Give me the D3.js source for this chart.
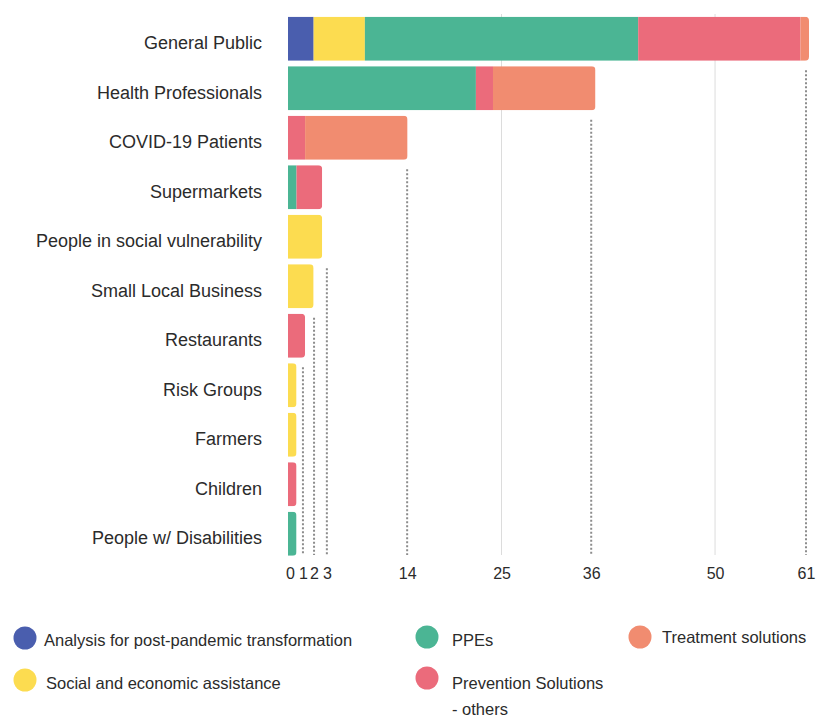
<!DOCTYPE html>
<html>
<head>
<meta charset="utf-8">
<script src="https://cdn.jsdelivr.net/npm/d3@7"></script>
<style>
  html, body { margin: 0; padding: 0; background: #fff; }
  svg { display: block; font-family: "Liberation Sans", Arial, Helvetica, sans-serif; }
</style>
</head>
<body>
<svg id="chart" width="817" height="718"></svg>
<script>
// Target groups, top to bottom
const categories = [
  "General Public", "Health Professionals", "COVID-19 Patients", "Supermarkets",
  "People in social vulnerability", "Small Local Business", "Restaurants",
  "Risk Groups", "Farmers", "Children", "People w/ Disabilities"
];

// Number of initiatives per group, one array per solution type
const analysisValues   = [3, 0, 0, 0, 0, 0, 0, 0, 0, 0, 0];
const socialValues     = [6, 0, 0, 0, 4, 3, 0, 1, 1, 0, 0];
const ppeValues        = [32, 22, 0, 1, 0, 0, 0, 0, 0, 0, 1];
const preventionValues = [19, 2, 2, 3, 0, 0, 2, 0, 0, 1, 0];
const treatmentValues  = [1, 12, 12, 0, 0, 0, 0, 0, 0, 0, 0];

const seriesNames = [
  "Analysis for post-pandemic transformation",
  "Social and economic assistance",
  "PPEs",
  "Prevention Solutions - others",
  "Treatment solutions"
];
const seriesColors = ["#4a5eae", "#fcdc50", "#4bb594", "#eb6b7b", "#f18c70"];

// Axis ticks: where each mark sits on the value scale, and the text printed under it
const tickValues = [0, 1.75, 3.05, 4.55, 13.95, 25, 35.5, 50, 60.65];
const tickLabels = ["0", "1", "2", "3", "14", "25", "36", "50", "61"];
const solidGridValues = [25, 50];

const seriesValues = [analysisValues, socialValues, ppeValues, preventionValues, treatmentValues];
const keys = d3.range(seriesNames.length);
const rows = categories.map((c, i) => {
  const r = { category: c };
  keys.forEach(k => { r[k] = seriesValues[k][i]; });
  r.total = d3.sum(keys, k => r[k]);
  return r;
});
const totals = rows.map(r => r.total);

const svg = d3.select("#chart");
const x = d3.scaleLinear().domain([0, 61]).range([288, 809]);
const y = d3.scaleBand().domain(categories).range([14, 558.5]).paddingInner(0.11).paddingOuter(0.055);
const axisBottom = 555;

// Solid reference lines
svg.append("g").selectAll("line")
  .data(solidGridValues)
  .join("line")
  .attr("x1", d => x(d)).attr("x2", d => x(d))
  .attr("y1", y.range()[0]).attr("y2", axisBottom)
  .attr("stroke", "#dcdcdc").attr("stroke-width", 1);

// Dotted drop lines, each one starting below the last bar that reaches its total
const dropTicks = tickValues.filter(v => v > 0 && !solidGridValues.includes(v));
svg.append("g").selectAll("line")
  .data(dropTicks)
  .join("line")
  .attr("x1", d => x(d)).attr("x2", d => x(d))
  .attr("y1", d => {
    const total = totals.reduce((a, b) => Math.abs(b - d) < Math.abs(a - d) ? b : a);
    const last = d3.max(rows.map((r, i) => r.total >= total ? i : -1));
    return y(categories[last + 1]) + 4;
  })
  .attr("y2", axisBottom)
  .attr("stroke", "#8c8c8c").attr("stroke-width", 2)
  .attr("stroke-dasharray", "2,2");

// Stacked bars; each row is clipped to a shape with a rounded end
const stacked = d3.stack().keys(keys)(rows);
const defs = svg.append("defs");
rows.forEach((r, i) => {
  defs.append("clipPath").attr("id", "row" + i)
    .append("rect")
    .attr("x", x(0) - 6).attr("y", y(r.category))
    .attr("width", x(r.total) - x(0) + 6).attr("height", y.bandwidth())
    .attr("rx", 4);
});
const barLayer = svg.append("g");
stacked.forEach((layer, k) => {
  barLayer.append("g").attr("fill", seriesColors[k])
    .selectAll("rect")
    .data(layer.map((d, i) => ({ d, i })).filter(o => o.d[1] - o.d[0] > 0))
    .join("rect")
    .attr("clip-path", o => `url(#row${o.i})`)
    .attr("x", o => x(o.d[0]))
    .attr("y", o => y(categories[o.i]))
    .attr("width", o => x(o.d[1]) - x(o.d[0]))
    .attr("height", y.bandwidth());
});

// Category labels
svg.append("g").selectAll("text")
  .data(categories)
  .join("text")
  .attr("x", 262)
  .attr("y", d => y(d) + y.bandwidth() / 2 + 4)
  .attr("dy", "0.35em")
  .attr("text-anchor", "end")
  .attr("font-size", 18)
  .attr("fill", "#2b2b2b")
  .text(d => d);

// Value axis
const xAxis = d3.axisBottom(x)
  .tickValues(tickValues)
  .tickFormat((d, i) => tickLabels[i])
  .tickSize(0)
  .tickPadding(0);
const axisG = svg.append("g").attr("transform", "translate(0,573)").call(xAxis);
axisG.select(".domain").remove();
axisG.selectAll("text")
  .attr("dy", "0.35em")
  .attr("font-size", 16)
  .attr("fill", "#2b2b2b")
  .attr("font-family", "\"Liberation Sans\", Arial, sans-serif")
  .attr("x", d => d === 0 ? 2 : 0);

// Legend
const legendItems = [
  { k: 0, cx: 25, cy: 638, tx: 44, lines: ["Analysis for post-pandemic transformation"], ty: 640 },
  { k: 1, cx: 25, cy: 680, tx: 46, lines: ["Social and economic assistance"], ty: 683 },
  { k: 2, cx: 427, cy: 637, tx: 452, lines: ["PPEs"], ty: 640 },
  { k: 3, cx: 427, cy: 678, tx: 452, lines: ["Prevention Solutions", "- others"], ty: 683 },
  { k: 4, cx: 640, cy: 637, tx: 662, lines: ["Treatment solutions"], ty: 637 }
];
const legend = svg.append("g");
legendItems.forEach(it => {
  legend.append("circle")
    .attr("cx", it.cx).attr("cy", it.cy).attr("r", 11.5)
    .attr("fill", seriesColors[it.k]);
  const t = legend.append("text")
    .attr("x", it.tx).attr("y", it.ty)
    .attr("font-size", 16.5)
    .attr("fill", "#2b2b2b");
  it.lines.forEach((line, j) => {
    t.append("tspan").attr("x", it.tx).attr("dy", j === 0 ? "0.35em" : 26).text(line);
  });
});
</script>
</body>
</html>
